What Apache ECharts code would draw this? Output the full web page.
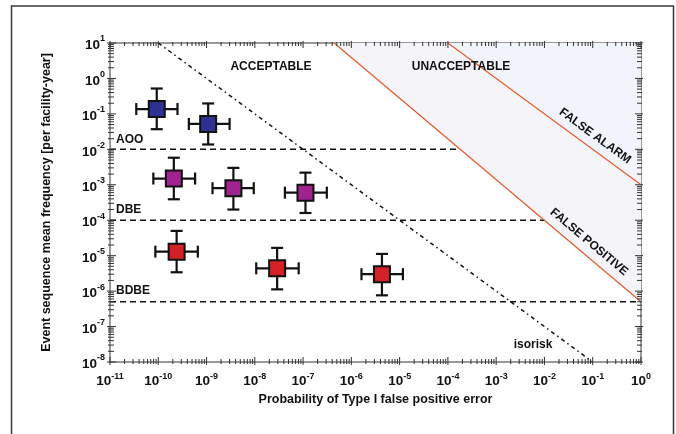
<!DOCTYPE html>
<html><head><meta charset="utf-8">
<script src="https://cdn.jsdelivr.net/npm/echarts@6/dist/echarts.min.js"></script>
<style>html,body{margin:0;padding:0;background:#fff}#c{width:676px;height:434px}</style>
</head><body><div id="c"></div>
<script>
// ---------- data ----------
const xTickExp = [-11, -10, -9, -8, -7, -6, -5, -4, -3, -2, -1, 0];
const yTickExp = [-8, -7, -6, -5, -4, -3, -2, -1, 0, 1];

const pointGroup = ['AOO', 'AOO', 'DBE', 'DBE', 'DBE', 'BDBE', 'BDBE', 'BDBE'];
const pointX = [9.3e-11, 1.08e-9, 2.1e-10, 3.6e-9, 1.12e-7, 2.4e-10, 2.9e-8, 4.3e-6];
const pointY = [0.137, 0.052, 1.5e-3, 8e-4, 6e-4, 1.3e-5, 4.4e-6, 3.0e-6];
const xLow  = [3.5e-11, 4.3e-10, 7.9e-11, 1.33e-9, 4.2e-8, 8.7e-11, 1.07e-8, 1.62e-6];
const xHigh = [2.5e-10, 3.0e-9, 5.8e-10, 9.5e-9, 3.1e-7, 6.6e-10, 8.1e-8, 1.17e-5];
const yLow  = [0.037, 0.0137, 3.9e-4, 2.0e-4, 1.6e-4, 3.4e-6, 1.12e-6, 7.6e-7];
const yHigh = [0.52, 0.197, 5.8e-3, 3.0e-3, 2.2e-3, 5.0e-5, 1.66e-5, 1.12e-5];

const levelNames = ['AOO', 'DBE', 'BDBE'];
const levelY = [1e-2, 1e-4, 5e-7];
const levelEndX = [1.8e-4, 1e-2, 1];

const isoriskX = [1e-10, 1e-1];
const isoriskY = [10, 1e-8];
const falsePositiveX = [4.4e-7, 1];
const falsePositiveY = [10, 5e-7];
const falseAlarmX = [1e-4, 1];
const falseAlarmY = [10, 1e-3];

// ---------- styles ----------
const FONT = "'Liberation Sans', Arial, sans-serif";
const groupColor = { AOO: '#2f3192', DBE: '#a0228f', BDBE: '#d42128' };
const RED = '#e8572c';

const xMin = Math.pow(10, xTickExp[0]), xMax = Math.pow(10, xTickExp[xTickExp.length - 1]);
const yMin = Math.pow(10, yTickExp[0]), yMax = Math.pow(10, yTickExp[yTickExp.length - 1]);

function expLabel(v) {
  const e = Math.round(Math.log10(v));
  return '{b|10}{s|' + e + '}';
}
const richX = {
  b: { fontSize: 13.5, fontWeight: 'bold', fontFamily: FONT, color: '#111' },
  s: { fontSize: 9, fontWeight: 'bold', fontFamily: FONT, color: '#111', padding: [0, 0, 10, 0] }
};
const richY = {
  b: { fontSize: 13.5, fontWeight: 'bold', fontFamily: FONT, color: '#111', padding: [5, 0, 0, 0] },
  s: { fontSize: 9, fontWeight: 'bold', fontFamily: FONT, color: '#111', padding: [0, 0, 8, 0] }
};

const errData = pointX.map((x, i) => [x, pointY[i], xLow[i], xHigh[i], yLow[i], yHigh[i]]);

function polygonSeries(xs, ys, color) {
  return {
    type: 'custom', coordinateSystem: 'cartesian2d', z: 1, silent: true,
    data: [[xs[0], ys[0]]],
    renderItem: function (params, api) {
      return { type: 'polygon', shape: { points: xs.map((x, i) => api.coord([x, ys[i]])) },
               style: { fill: color, stroke: null } };
    }
  };
}
function lineSeries(xs, ys, style) {
  return {
    type: 'line', z: 2, silent: true, symbol: 'none', animation: false,
    data: xs.map((x, i) => [x, ys[i]]), lineStyle: style
  };
}

const series = [];
// shaded regions
series.push(polygonSeries([falsePositiveX[0], falsePositiveX[1], falseAlarmX[1], falseAlarmX[0]],
                          [falsePositiveY[0], falsePositiveY[1], falseAlarmY[1], falseAlarmY[0]], '#f5f5f9'));
series.push(polygonSeries([falseAlarmX[0], falseAlarmX[1], xMax],
                          [falseAlarmY[0], falseAlarmY[1], yMax], '#f1f5fb'));
// level lines
levelY.forEach((y, i) => {
  series.push(lineSeries([xMin, levelEndX[i]], [y, y], { color: '#111', width: 1.5, type: [6, 4] }));
});
series.push(lineSeries(isoriskX, isoriskY, { color: '#111', width: 1.5, type: [4, 3.5, 1.5, 3.5] }));
series.push(lineSeries(falsePositiveX, falsePositiveY, { color: RED, width: 1.2 }));
series.push(lineSeries(falseAlarmX, falseAlarmY, { color: RED, width: 1.2 }));

// error bars
series.push({
  type: 'custom', coordinateSystem: 'cartesian2d', z: 3, silent: true,
  encode: { x: 0, y: 1 },
  data: errData,
  renderItem: function (params, api) {
    const c = api.coord([api.value(0), api.value(1)]);
    const l = api.coord([api.value(2), api.value(1)]);
    const r = api.coord([api.value(3), api.value(1)]);
    const b = api.coord([api.value(0), api.value(4)]);
    const t = api.coord([api.value(0), api.value(5)]);
    const cap = 6;
    const st = { stroke: '#111', lineWidth: 2.2 };
    return { type: 'group', children: [
      { type: 'line', shape: { x1: l[0], y1: c[1], x2: r[0], y2: c[1] }, style: st },
      { type: 'line', shape: { x1: c[0], y1: t[1], x2: c[0], y2: b[1] }, style: st },
      { type: 'line', shape: { x1: l[0], y1: c[1] - cap, x2: l[0], y2: c[1] + cap }, style: st },
      { type: 'line', shape: { x1: r[0], y1: c[1] - cap, x2: r[0], y2: c[1] + cap }, style: st },
      { type: 'line', shape: { x1: c[0] - cap, y1: t[1], x2: c[0] + cap, y2: t[1] }, style: st },
      { type: 'line', shape: { x1: c[0] - cap, y1: b[1], x2: c[0] + cap, y2: b[1] }, style: st }
    ] };
  }
});
// squares
['AOO', 'DBE', 'BDBE'].forEach(g => {
  series.push({
    type: 'scatter', z: 4, symbol: 'rect', symbolSize: 16, silent: true,
    data: pointX.map((x, i) => pointGroup[i] === g ? [x, pointY[i]] : null).filter(d => d),
    itemStyle: { color: groupColor[g], borderColor: '#111', borderWidth: 2, opacity: 1 }
  });
});
// log ticks on all four sides
series.push({
  type: 'custom', coordinateSystem: 'cartesian2d', z: 5, silent: true, clip: false,
  data: [[1e-5, 1e-3]],
  renderItem: function (params, api) {
    const cs = params.coordSys;
    const left = cs.x, right = cs.x + cs.width, top = cs.y, bottom = cs.y + cs.height;
    const ch = [];
    const st = { stroke: '#333', lineWidth: 1 };
    function addX(v, major) {
      const px = api.coord([v, yMin])[0];
      const a = major ? 5 : 3, o = major ? 3 : 2;
      ch.push({ type: 'line', shape: { x1: px, y1: bottom - a, x2: px, y2: bottom + o }, style: st });
      ch.push({ type: 'line', shape: { x1: px, y1: top + a, x2: px, y2: top - o + 1 }, style: st });
    }
    function addY(v, major) {
      const py = api.coord([xMin, v])[1];
      const a = major ? 6 : 4, o = major ? 3 : 2;
      ch.push({ type: 'line', shape: { x1: left - o, y1: py, x2: left + a, y2: py }, style: st });
      ch.push({ type: 'line', shape: { x1: right + o - 1, y1: py, x2: right - a, y2: py }, style: st });
    }
    xTickExp.forEach((e, i) => {
      const base = Math.pow(10, e);
      addX(base, true);
      if (i < xTickExp.length - 1) for (let m = 2; m <= 9; m++) addX(m * base, false);
    });
    yTickExp.forEach((e, i) => {
      const base = Math.pow(10, e);
      addY(base, true);
      if (i < yTickExp.length - 1) for (let m = 2; m <= 9; m++) addY(m * base, false);
    });
    return { type: 'group', children: ch };
  }
});

const axisLine = { show: true, lineStyle: { color: '#7a7a7a', width: 1.5 } };
const option = {
  animation: false,
  backgroundColor: '#fff',
  grid: { left: 110, right: 35, top: 43, bottom: 72, containLabel: false },
  xAxis: [{
    type: 'log', logBase: 10, min: xMin, max: xMax, interval: 1, position: 'bottom',
    axisLine: axisLine, axisTick: { show: false }, splitLine: { show: false }, minorTick: { show: false },
    axisLabel: { formatter: expLabel, rich: richX, margin: 10, showMinLabel: true, showMaxLabel: true, hideOverlap: false },
    name: 'Probability of Type I false positive error', nameLocation: 'middle', nameGap: 31,
    nameTextStyle: { fontSize: 12.5, fontWeight: 'bold', fontFamily: FONT, color: '#111' }
  }, {
    type: 'log', logBase: 10, min: xMin, max: xMax, interval: 1, position: 'top',
    axisLine: axisLine, axisTick: { show: false }, axisLabel: { show: false }, splitLine: { show: false }
  }],
  yAxis: [{
    type: 'log', logBase: 10, min: yMin, max: yMax, interval: 1, position: 'left',
    axisLine: axisLine, axisTick: { show: false }, splitLine: { show: false }, minorTick: { show: false },
    axisLabel: { formatter: expLabel, rich: richY, margin: 5, showMinLabel: true, showMaxLabel: true, hideOverlap: false },
    name: 'Event sequence mean frequency [per facility-year]', nameLocation: 'middle', nameGap: 57, nameRotate: 90,
    nameTextStyle: { fontSize: 12.5, fontWeight: 'bold', fontFamily: FONT, color: '#111' }
  }, {
    type: 'log', logBase: 10, min: yMin, max: yMax, interval: 1, position: 'right',
    axisLine: axisLine, axisTick: { show: false }, axisLabel: { show: false }, splitLine: { show: false }
  }],
  series: series,
  graphic: []
};

function txt(text, x, y, rotDeg, align) {
  return {
    type: 'text', x: x, y: y, rotation: (rotDeg || 0) * Math.PI / 180, z: 100, silent: true,
    style: { text: text, x: 0, y: 0, fill: '#111', font: "bold 12px " + FONT,
             align: align || 'center', verticalAlign: 'middle', textAlign: align || 'center', textVerticalAlign: 'middle' }
  };
}
option.graphic = [
  { type: 'rect', shape: { x: 11.5, y: 6, width: 662, height: 460 }, style: { fill: null, stroke: '#3a3a3a', lineWidth: 1.5 }, silent: true, z: 100 },
  txt('ACCEPTABLE', 271, 67),
  txt('UNACCEPTABLE', 461, 67),
  txt('AOO', 116, 140, 0, 'left'),
  txt('DBE', 116, 210, 0, 'left'),
  txt('BDBE', 116, 291, 0, 'left'),
  txt('isorisk', 533, 345),
  txt('FALSE ALARM', 595, 136, -36),
  txt('FALSE POSITIVE', 589, 242, -40)
];

const chart = echarts.init(document.getElementById('c'), null, { renderer: 'canvas' });
chart.setOption(option);
</script></body></html>
